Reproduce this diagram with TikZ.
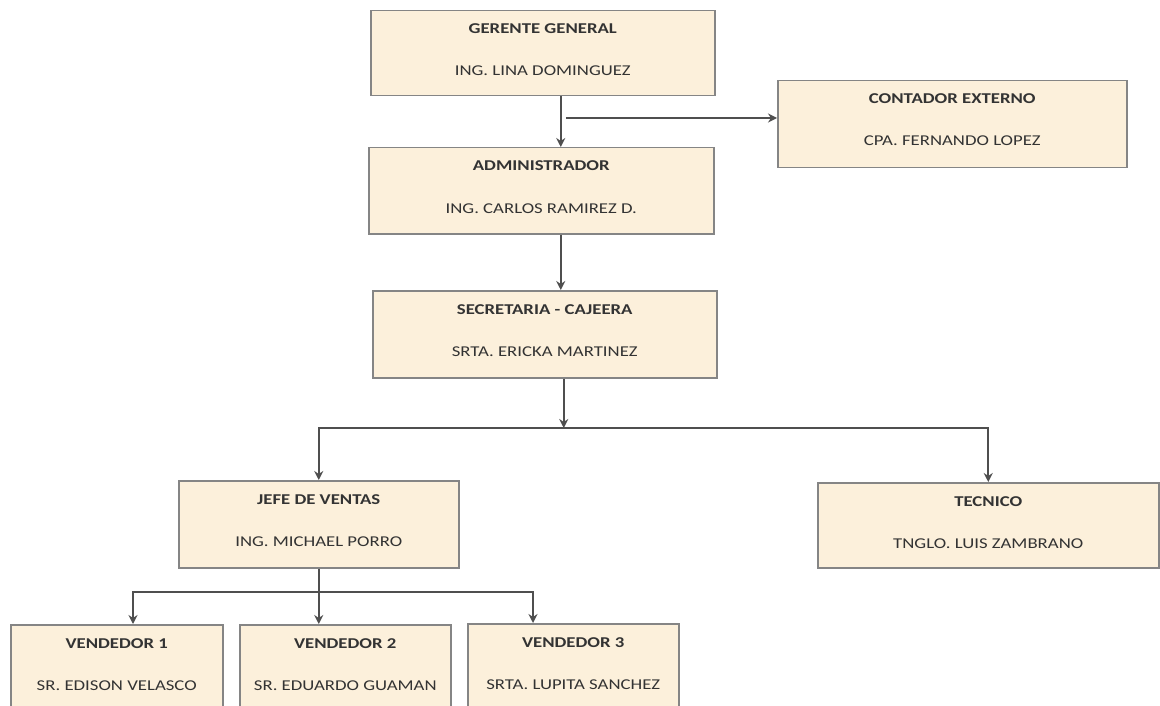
\documentclass[tikz,border=0pt]{standalone}
\usepackage{fontspec}
\newfontfamily\hdrfont[FakeStretch=1.25]{Carlito}
\usetikzlibrary{arrows.meta}
\definecolor{boxfill}{HTML}{FCF0DB}
\definecolor{boxline}{HTML}{858585}
\definecolor{lineclr}{HTML}{4F4F4F}
\definecolor{txt}{HTML}{333333}
\tikzset{
 orgbox/.style={draw=boxline, fill=boxfill, line width=1.5pt, inner sep=0pt},
 hdr/.style={font=\hdrfont\bfseries\fontsize{15}{18}\selectfont, text=txt, inner sep=0pt},
 nm/.style={font=\hdrfont\fontsize{15}{18}\selectfont, text=txt, inner sep=0pt},
 conn/.style={draw=lineclr, line width=1.6pt, -{Stealth[length=9pt,width=9pt,inset=3pt]}},
 plainline/.style={draw=lineclr, line width=1.6pt}
}
\newcommand\orgnode[7]{%
 \node[orgbox, minimum width=#4pt, minimum height=#5pt, anchor=north west] (#1) at (#2,#3) {};
 \node[hdr, anchor=base] (#1h) at ([yshift=-24pt]#1.north) {#6};
 \node[nm, anchor=base] (#1n) at ([yshift=-66pt]#1.north) {#7};
}
\begin{document}
\begin{tikzpicture}[x=1pt,y=-1pt]
\useasboundingbox (0,0) rectangle (1160,706);
\orgnode{gg}{370}{10}{344}{85}{GERENTE GENERAL}{ING. LINA DOMINGUEZ}
\orgnode{cont}{777}{80}{349}{87}{CONTADOR EXTERNO}{CPA. FERNANDO LOPEZ}
\orgnode{adm}{368}{147}{345}{86}{ADMINISTRADOR}{ING. CARLOS RAMIREZ D.}
\orgnode{sec}{372}{290}{344}{87}{SECRETARIA - CAJEERA}{SRTA. ERICKA MARTINEZ}
\orgnode{jefe}{178}{480}{280}{87}{JEFE DE VENTAS}{ING. MICHAEL PORRO}
\orgnode{tec}{817}{482}{341}{85}{TECNICO}{TNGLO. LUIS ZAMBRANO}
\orgnode{vone}{10}{624}{212}{82}{VENDEDOR 1}{SR. EDISON VELASCO}
\orgnode{vtwo}{239}{624}{211}{82}{VENDEDOR 2}{SR. EDUARDO GUAMAN}
\orgnode{vthree}{467}{623}{211}{83}{VENDEDOR 3}{SRTA. LUPITA SANCHEZ}
% connectors
\draw[conn] ([xshift=18pt]gg.south) -- ([xshift=18pt]gg.south |- adm.north);
\coordinate (ct) at ([xshift=23pt]gg.south |- 0,118);
\draw[conn] (ct) -- (ct -| cont.west);
\draw[conn] ([xshift=19.5pt]adm.south) -- ([xshift=19.5pt]adm.south |- sec.north);
\coordinate (busone) at ([xshift=19pt]sec.south |- 0,428);
\draw[conn] ([xshift=19pt]sec.south) -- (busone);
\draw[plainline, line cap=rect] (busone -| jefe.north) -- (busone -| tec.north);
\draw[conn] (busone -| jefe.north) -- (jefe.north);
\draw[conn] (busone -| tec.north) -- (tec.north);
\coordinate (btl) at (133,592);
\coordinate (btr) at (533,592);
\draw[plainline, line cap=rect] (btl) -- (btr);
\draw[conn] (jefe.south) -- (jefe.south |- vtwo.north);
\draw[conn] (btl) -- (btl |- vone.north);
\draw[conn] (btr) -- (btr |- vthree.north);
\end{tikzpicture}
\end{document}
